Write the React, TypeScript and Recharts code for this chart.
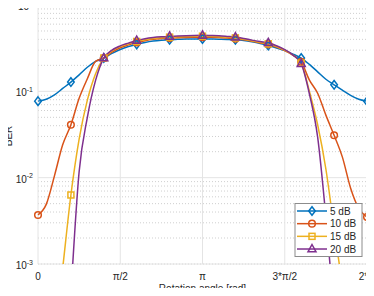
import { CartesianGrid, Line, LineChart, XAxis, YAxis } from "recharts"

const FONT = "'Liberation Sans', Arial, Helvetica, sans-serif"
const TEXT = "#262626"
const AXIS = "#8c8c8c"
const GRID = "#e4e4e4"
const MINOR_GRID = "#cfcfcf"

const SERIES_LABELS = ["5 dB", "10 dB", "15 dB", "20 dB"]
const SERIES_COLORS = ["#0072BD", "#D95319", "#EDB120", "#7E2F8E"]
const SERIES_MARKERS = ["diamond", "circle", "square", "triangle"]

const BER_5DB = [
  0.077, 0.081, 0.091, 0.108, 0.128, 0.155, 0.19, 0.222, 0.243, 0.275, 0.305,
  0.33, 0.35, 0.368, 0.382, 0.391, 0.397, 0.4, 0.403, 0.404, 0.405, 0.404,
  0.402, 0.399, 0.395, 0.388, 0.375, 0.358, 0.34, 0.318, 0.296, 0.27, 0.243,
  0.205, 0.168, 0.138, 0.119, 0.103, 0.09, 0.081, 0.077,
]
const BER_10DB = [
  0.0037, 0.0049, 0.0105, 0.024, 0.041, 0.083, 0.14, 0.222, 0.243, 0.285,
  0.32, 0.345, 0.368, 0.386, 0.4, 0.408, 0.414, 0.418, 0.421, 0.423, 0.424,
  0.423, 0.42, 0.414, 0.407, 0.395, 0.38, 0.364, 0.35, 0.325, 0.297, 0.262,
  0.22, 0.135, 0.095, 0.053, 0.031, 0.0174, 0.0076, 0.0044, 0.0035,
]
const BER_15DB = [
  1e-6, 1e-5, 1.3e-4, 8.9e-4, 0.0063, 0.028, 0.079, 0.16, 0.243, 0.295, 0.33,
  0.355, 0.378, 0.396, 0.41, 0.418, 0.424, 0.428, 0.432, 0.434, 0.435, 0.434,
  0.43, 0.424, 0.416, 0.402, 0.385, 0.37, 0.355, 0.33, 0.3, 0.262, 0.212,
  0.1, 0.041, 0.0126, 0.0026, 5.7e-4, 1.3e-4, 3e-5, 1e-5,
]
const BER_20DB = [
  1e-9, 1e-8, 1e-7, 1e-5, 4.5e-4, 0.0117, 0.05, 0.134, 0.243, 0.3, 0.336,
  0.362, 0.388, 0.407, 0.42, 0.428, 0.433, 0.437, 0.441, 0.444, 0.445, 0.443,
  0.44, 0.433, 0.425, 0.41, 0.392, 0.377, 0.365, 0.337, 0.304, 0.263, 0.209,
  0.093, 0.0295, 0.0035, 2.8e-4, 3e-5, 3e-6, 3e-7, 3e-8,
]

const X_TICKS = [0, Math.PI / 2, Math.PI, (3 * Math.PI) / 2, 2 * Math.PI]
const X_TICK_LABELS = ["0", "π/2", "π", "3*π/2", "2*π"]
const Y_TICKS = [1e-3, 1e-2, 1e-1, 1]
const Y_TICK_EXP = ["-3", "-2", "-1", "0"]
const Y_MINOR = [
  2e-3, 3e-3, 4e-3, 5e-3, 6e-3, 7e-3, 8e-3, 9e-3, 2e-2, 3e-2, 4e-2, 5e-2,
  6e-2, 7e-2, 8e-2, 9e-2, 0.2, 0.3, 0.4, 0.5, 0.6, 0.7, 0.8, 0.9,
]
const MARKER_EVERY = 4
const Y_DOMAIN: [number, number] = [1e-3, 1]
const X_DOMAIN: [number, number] = [0, 2 * Math.PI]

const SERIES = [BER_5DB, BER_10DB, BER_15DB, BER_20DB]
const KEYS = ["ber5", "ber10", "ber15", "ber20"]

const rows = BER_5DB.map((_, i) => ({
  x: (i * Math.PI) / 20,
  ber5: BER_5DB[i],
  ber10: BER_10DB[i],
  ber15: BER_15DB[i],
  ber20: BER_20DB[i],
}))

/** MATLAB-style hollow marker. */
function Marker({ shape, x, y, color }: { shape: string; x: number; y: number; color: string }) {
  const common = { fill: "none", stroke: color, strokeWidth: 1.5 }
  if (shape === "diamond")
    return <polygon points={`${x},${y - 4.3} ${x + 3.3},${y} ${x},${y + 4.3} ${x - 3.3},${y}`} {...common} />
  if (shape === "circle") return <circle cx={x} cy={y} r={3.3} {...common} />
  if (shape === "square") return <rect x={x - 3} y={y - 3} width={6} height={6} {...common} />
  return <polygon points={`${x},${y - 4.5} ${x + 4},${y + 2.8} ${x - 4},${y + 2.8}`} {...common} />
}

function makeDot(shape: string, color: string) {
  return (props: any) => {
    const { cx, cy, index, value } = props
    const key = `${shape}-${index}`
    if (index % MARKER_EVERY !== 0 || cx == null || cy == null || value == null || value < Y_DOMAIN[0])
      return <g key={key} />
    return (
      <g key={key}>
        <Marker shape={shape} x={cx} y={cy} color={color} />
      </g>
    )
  }
}

function DecadeTick({ x, y, payload }: any) {
  const i = Y_TICKS.findIndex((t) => Math.abs(Math.log10(t) - Math.log10(payload.value)) < 1e-6)
  return (
    <text x={x - 5} y={y + 5} textAnchor="end" fontSize={10} fill={TEXT} fontFamily={FONT}>
      10
      <tspan dy={-4.5} fontSize={7}>
        {Y_TICK_EXP[i]}
      </tspan>
    </text>
  )
}

function AngleTick({ x, y, payload }: any) {
  const i = X_TICKS.findIndex((t) => Math.abs(t - payload.value) < 1e-6)
  return (
    <text x={x} y={y + 15.5} textAnchor="middle" fontSize={10} fill={TEXT} fontFamily={FONT}>
      {X_TICK_LABELS[i]}
    </text>
  )
}

function LegendBox() {
  const top = 211
  const step = 12.67
  return (
    <g>
      <rect x={295} y={203.5} width={67} height={53} fill="#fff" stroke={AXIS} strokeWidth={1} />
      {SERIES_LABELS.map((label, i) => {
        const y = top + i * step
        return (
          <g key={label}>
            <line x1={297} x2={327} y1={y} y2={y} stroke={SERIES_COLORS[i]} strokeWidth={1.5} />
            <Marker shape={SERIES_MARKERS[i]} x={312} y={y} color={SERIES_COLORS[i]} />
            <text x={330} y={y + 3.6} fontSize={10} fill={TEXT} fontFamily={FONT}>
              {label}
            </text>
          </g>
        )
      })}
    </g>
  )
}

export default function App() {
  return (
    <div style={{ position: "relative", width: 374, height: 296, margin: -8, background: "#fff" }}>
      <LineChart width={374} height={296} data={rows} margin={{ top: 5, right: 7, bottom: 0, left: 0 }}>
        <CartesianGrid xAxisId="main" yAxisId="mn" vertical={false} stroke={MINOR_GRID} strokeDasharray="1 2" />
        <CartesianGrid xAxisId="main" yAxisId="main" stroke={GRID} />
        <XAxis
          xAxisId="main"
          dataKey="x"
          type="number"
          domain={X_DOMAIN}
          ticks={X_TICKS}
          interval={0}
          height={32}
          axisLine={false}
          tickLine={false}
          tickSize={0}
          tickMargin={0}
          tick={<AngleTick />}
        />
        <XAxis xAxisId="bt" dataKey="x" type="number" domain={X_DOMAIN} ticks={X_TICKS} interval={0} orientation="bottom" mirror height={0} tick={false} tickSize={4} stroke={AXIS} />
        <XAxis xAxisId="tp" dataKey="x" type="number" domain={X_DOMAIN} ticks={X_TICKS} interval={0} orientation="top" mirror height={0} tick={false} tickSize={4} stroke={AXIS} />
        <YAxis
          yAxisId="main"
          scale="log"
          domain={Y_DOMAIN}
          allowDataOverflow
          ticks={Y_TICKS}
          interval={0}
          width={38}
          axisLine={false}
          tickLine={false}
          tickSize={0}
          tickMargin={0}
          tick={<DecadeTick />}
        />
        <YAxis yAxisId="lt" scale="log" domain={Y_DOMAIN} allowDataOverflow ticks={[...Y_TICKS, ...Y_MINOR]} interval={0} orientation="left" mirror width={0} tick={false} tickSize={3} stroke={AXIS} />
        <YAxis yAxisId="rt" scale="log" domain={Y_DOMAIN} allowDataOverflow ticks={[...Y_TICKS, ...Y_MINOR]} interval={0} orientation="right" mirror width={0} tick={false} tickSize={3} stroke={AXIS} />
        <YAxis yAxisId="mn" scale="log" domain={Y_DOMAIN} allowDataOverflow ticks={Y_MINOR} interval={0} hide />
        {SERIES.map((_, i) => (
          <Line
            key={KEYS[i]}
            xAxisId="main"
            yAxisId="main"
            type="monotone"
            dataKey={KEYS[i]}
            name={SERIES_LABELS[i]}
            stroke={SERIES_COLORS[i]}
            strokeWidth={1.5}
            dot={makeDot(SERIES_MARKERS[i], SERIES_COLORS[i])}
            activeDot={false}
            isAnimationActive={false}
          />
        ))}
      </LineChart>
      <svg width={374} height={296} style={{ position: "absolute", left: 0, top: 0, pointerEvents: "none" }}>
        <text x={8.5} y={136} transform="rotate(-90 8.5 136)" textAnchor="middle" dominantBaseline="central" fontSize={10} fill={TEXT} fontFamily={FONT}>
          BER
        </text>
        <text x={202.5} y={292} textAnchor="middle" fontSize={10} fill={TEXT} fontFamily={FONT}>
          Rotation angle [rad]
        </text>
        <LegendBox />
      </svg>
    </div>
  )
}
